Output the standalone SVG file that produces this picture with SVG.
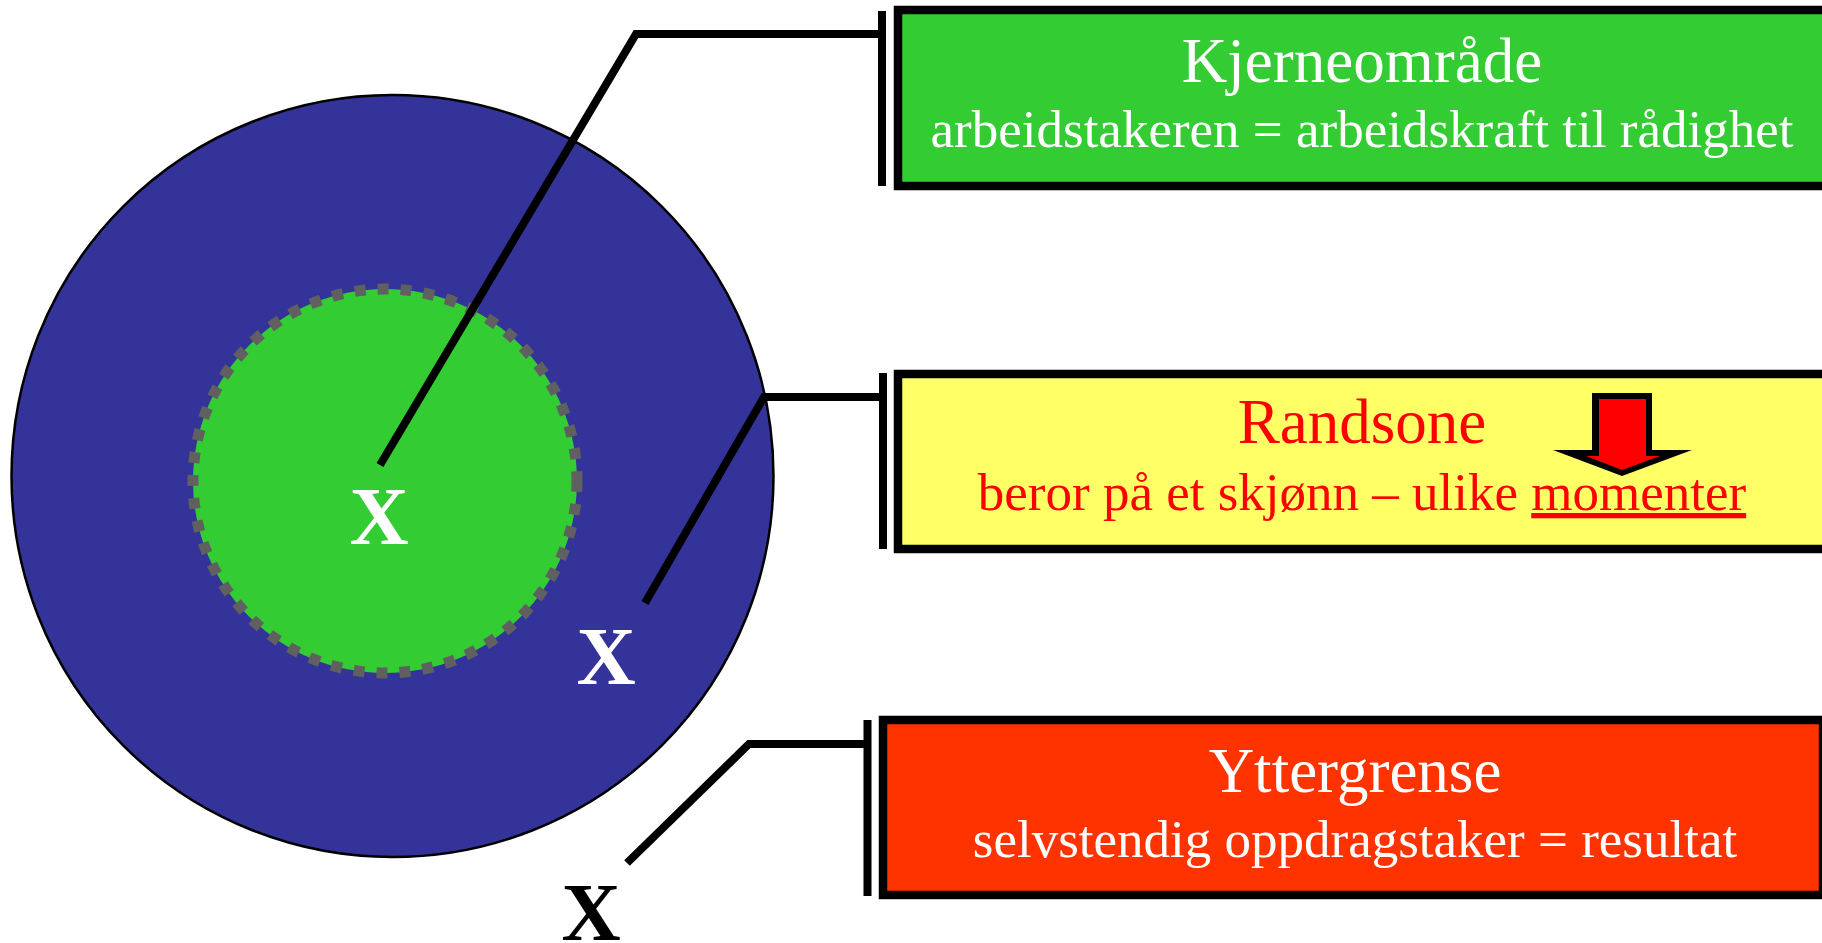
<svg xmlns="http://www.w3.org/2000/svg" width="1822" height="943" viewBox="0 0 1822 943">
<style>
.conn{fill:none;stroke:#000;stroke-width:8;stroke-linecap:butt;stroke-linejoin:miter}
.box{stroke:#000;stroke-width:8.5}
.t{font-family:"Liberation Serif","Times New Roman",serif;text-anchor:middle}
.h{font-size:63px}
.s{font-size:53px}
.x{font-family:"Liberation Serif","Times New Roman",serif;font-weight:bold;font-size:82px;text-anchor:middle}
</style>
<rect width="1822" height="943" fill="#fff"/>
<g id="zones">
<circle id="outer-zone" cx="392.5" cy="476" r="381" fill="#333399" stroke="#000" stroke-width="2.5"/>
<circle id="core-zone" cx="385" cy="481" r="192" fill="#33CC33" stroke="#606060" stroke-width="11" stroke-dasharray="11 12"/>
</g>
<g id="markers">
<text class="x" x="379" y="544" fill="#fff">X</text>
<text class="x" x="606" y="684" fill="#fff">X</text>
<text class="x" x="591" y="940" fill="#000">X</text>
</g>
<g id="connectors">
<polyline class="conn" points="380,465 636,34 882,34"/>
<line class="conn" x1="882" y1="11" x2="882" y2="186"/>
<polyline class="conn" points="645,603 764,397 883,397"/>
<line class="conn" x1="883" y1="373" x2="883" y2="549"/>
<polyline class="conn" points="627,863 749,744 867,744"/>
<line class="conn" x1="867.5" y1="720" x2="867.5" y2="896"/>
</g>
<g id="node-kjerne">
<rect class="box" x="898" y="10" width="940" height="176" fill="#33CC33"/>
<text class="t h" x="1362" y="82" fill="#fff">Kjerneområde</text>
<text class="t s" x="1362" y="147" fill="#fff">arbeidstakeren = arbeidskraft til rådighet</text>
</g>
<g id="node-randsone">
<rect class="box" x="898" y="374" width="940" height="175" fill="#FFFF66"/>
<text class="t h" x="1362" y="443" fill="#FF0000">Randsone</text>
<text class="t s" x="1362" y="510" fill="#FF0000">beror på et skjønn – ulike <tspan text-decoration="underline">momenter</tspan></text>
<g id="down-arrow">
<polygon points="1592,393 1652,393 1652,450 1692,450 1622,476 1553,450 1592,450" fill="#000"/>
<polygon points="1599,399 1646,399 1646,456 1660,456 1622,470 1586,456 1599,456" fill="#FF0000"/>
</g>
</g>
<g id="node-yttergrense">
<rect class="box" x="883" y="720" width="940" height="175" fill="#FF3300"/>
<text class="t h" x="1355" y="792" fill="#fff">Yttergrense</text>
<text class="t s" x="1355" y="857" fill="#fff">selvstendig oppdragstaker = resultat</text>
</g>
</svg>
